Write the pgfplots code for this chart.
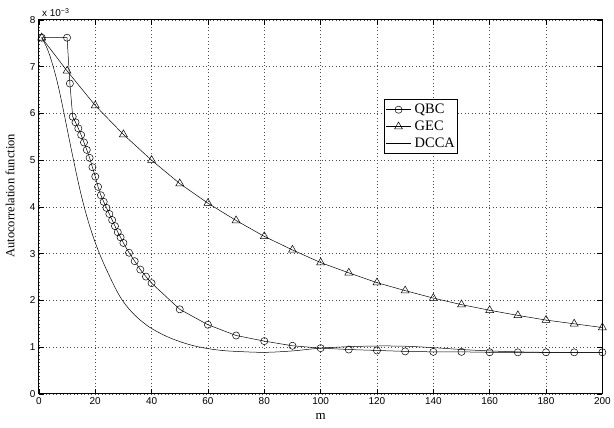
\documentclass[border=0pt]{standalone}
\usepackage{fontspec}
\setmainfont{Liberation Serif}
\setsansfont{Liberation Sans}
\usepackage{pgfplots}
\usepackage{pgfplotstable}
\pgfplotsset{compat=1.18}
\pgfplotstableread{
x y
1 7.62
10 7.62
11 6.64
12 5.93
13 5.81
14 5.68
15 5.54
16 5.38
17 5.22
18 5.05
19 4.85
20 4.65
21 4.43
22 4.25
23 4.11
24 3.98
25 3.85
26 3.72
27 3.59
28 3.46
29 3.35
30 3.23
32 3.02
34 2.84
36 2.66
38 2.51
40 2.37
50 1.81
60 1.48
70 1.25
80 1.13
90 1.03
100 0.98
110 0.95
120 0.93
130 0.91
140 0.90
150 0.90
160 0.89
170 0.89
180 0.89
190 0.89
200 0.89
}\qbc
\pgfplotstableread{
x y
1 7.62
10 6.91
20 6.17
30 5.55
40 5.00
50 4.50
60 4.08
70 3.71
80 3.37
90 3.08
100 2.81
110 2.59
120 2.38
130 2.21
140 2.05
150 1.91
160 1.79
170 1.68
180 1.58
190 1.50
200 1.42
}\gec
\pgfplotstableread{
x y
1 7.62
3 7.38
5 7.02
7 6.55
9 5.98
11 5.38
13 4.80
15 4.26
17 3.80
19 3.41
21 3.08
23 2.79
25 2.53
27 2.28
29 2.06
31 1.89
33 1.75
35 1.63
37 1.53
40 1.40
45 1.24
50 1.12
55 1.03
60 0.97
65 0.93
70 0.91
80 0.89
90 0.92
100 0.98
110 1.01
120 1.025
130 1.02
140 0.99
150 0.95
160 0.92
170 0.90
180 0.89
190 0.89
200 0.89
}\dcca
\begin{document}
\begin{tikzpicture}
\begin{axis}[
  scale only axis, width=565pt, height=375pt,
  xmin=0, xmax=200, ymin=0, ymax=8,
  xtick={0,20,...,200}, ytick={0,1,...,8},
  tick align=inside, major tick length=5pt,
  grid=major,
  grid style={black!70, line width=0.4pt, dash pattern=on 0.5pt off 3pt},
  axis line style={line width=0.9pt},
  tick style={line width=0.6pt, black},
  /pgf/number format/assume math mode=true,
  ticklabel style={font=\sffamily\fontsize{10}{12}\selectfont},
  xlabel={m}, ylabel={Autocorrelation function},
  every axis y label/.style={at={([xshift=-29pt]rel axis cs:0,0.53)}, rotate=90, anchor=center, font=\fontsize{12.5}{14}\selectfont},
  every axis x label/.style={at={([yshift=-23pt]rel axis cs:0.5,0)}, anchor=center, font=\fontsize{13}{14}\selectfont},
  legend cell align=left,
  legend style={at={(axis cs:122.5,6.3)}, anchor=north west,
    font=\fontsize{14.5}{16}\selectfont,
    inner sep=1.5pt, row sep=0pt, column sep=3pt, draw=black, line width=0.6pt, fill=white,
    nodes={inner sep=0.5pt, text height=11.5pt, text depth=4.5pt}},
  legend image code/.code={\draw[mark repeat=2,mark phase=2] plot coordinates {(0pt,0pt)(12.5pt,0pt)(25pt,0pt)};},
]
\addplot[black, line width=0.5pt, mark=o, mark size=3.6pt, mark options={line width=0.5pt}] table[x=x,y=y] {\qbc};
\addlegendentry{QBC}
\addplot[black, line width=0.5pt, mark=triangle, mark size=4.6pt, mark options={line width=0.5pt}] table[x=x,y=y] {\gec};
\addlegendentry{GEC}
\addplot[black, line width=0.5pt, smooth, tension=0.6] table[x=x,y=y] {\dcca};
\addlegendentry{DCCA}
\end{axis}
\node[anchor=south west, font=\sffamily\fontsize{10}{12}\selectfont, inner sep=0pt] at ([xshift=3pt,yshift=3pt]current axis.north west) {x 10\textsuperscript{−3}};
\path (current axis.south west) ++(-39pt,-34pt);
\path (current axis.north east) ++(10pt,20pt);
\end{tikzpicture}
\end{document}
